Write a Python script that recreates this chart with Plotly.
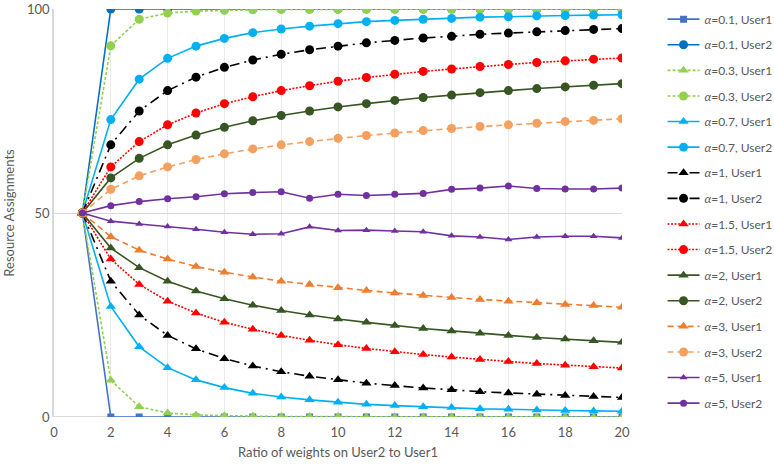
import plotly.graph_objects as go

x = list(range(1, 21))

a01_u1 = [50, 0, 0, 0, 0, 0, 0, 0, 0, 0, 0, 0, 0, 0, 0, 0, 0, 0, 0, 0]
a01_u2 = [50, 100, 100, 100, 100, 100, 100, 100, 100, 100, 100, 100, 100, 100, 100, 100, 100, 100, 100, 100]
a03_u1 = [50, 9.0, 2.5, 1.0, 0.5, 0.3, 0.2, 0.1, 0.1, 0.1, 0, 0, 0, 0, 0, 0, 0, 0, 0, 0]
a03_u2 = [50, 91.0, 97.5, 99.0, 99.5, 99.7, 99.8, 99.9, 99.9, 99.9, 100, 100, 100, 100, 100, 100, 100, 100, 100, 100]
a07_u1 = [50, 27.1, 17.2, 12.1, 9.1, 7.2, 5.8, 4.9, 4.2, 3.6, 3.1, 2.8, 2.5, 2.3, 2.0, 1.9, 1.7, 1.6, 1.5, 1.4]
a07_u2 = [50, 72.9, 82.8, 87.9, 90.9, 92.8, 94.2, 95.1, 95.8, 96.4, 96.9, 97.2, 97.5, 97.7, 98.0, 98.1, 98.3, 98.4, 98.5, 98.6]
a1_u1 = [50, 33.3, 25.0, 20.0, 16.7, 14.3, 12.5, 11.1, 10.0, 9.1, 8.3, 7.7, 7.1, 6.7, 6.2, 5.9, 5.6, 5.3, 5.0, 4.8]
a1_u2 = [50, 66.7, 75.0, 80.0, 83.3, 85.7, 87.5, 88.9, 90.0, 90.9, 91.7, 92.3, 92.9, 93.3, 93.8, 94.1, 94.4, 94.7, 95.0, 95.2]
a15_u1 = [50, 38.7, 32.5, 28.4, 25.5, 23.2, 21.5, 20.0, 18.8, 17.7, 16.8, 16.0, 15.3, 14.7, 14.1, 13.6, 13.1, 12.7, 12.3, 12.0]
a15_u2 = [50, 61.3, 67.5, 71.6, 74.5, 76.8, 78.5, 80.0, 81.2, 82.3, 83.2, 84.0, 84.7, 85.3, 85.9, 86.4, 86.9, 87.3, 87.7, 88.0]
a2_u1 = [50, 41.4, 36.6, 33.3, 30.9, 29.0, 27.4, 26.1, 25.0, 24.0, 23.2, 22.4, 21.7, 21.1, 20.5, 20.0, 19.5, 19.1, 18.7, 18.3]
a2_u2 = [50, 58.6, 63.4, 66.7, 69.1, 71.0, 72.6, 73.9, 75.0, 76.0, 76.8, 77.6, 78.3, 78.9, 79.5, 80.0, 80.5, 80.9, 81.3, 81.7]
a3_u1 = [50, 44.2, 40.9, 38.7, 36.9, 35.5, 34.3, 33.3, 32.5, 31.7, 31.0, 30.4, 29.8, 29.3, 28.8, 28.4, 28.0, 27.6, 27.3, 26.9]
a3_u2 = [50, 55.8, 59.1, 61.3, 63.1, 64.5, 65.7, 66.7, 67.5, 68.3, 69.0, 69.6, 70.2, 70.7, 71.2, 71.6, 72.0, 72.4, 72.7, 73.1]
a5_u1 = [50, 48.0, 47.3, 46.7, 46.0, 45.3, 44.8, 44.9, 46.6, 45.7, 45.8, 45.6, 45.4, 44.4, 44.1, 43.5, 44.1, 44.3, 44.3, 43.9]
a5_u2 = [50, 51.8, 52.8, 53.5, 54.0, 54.7, 55.0, 55.2, 53.6, 54.6, 54.3, 54.6, 54.8, 55.8, 56.1, 56.6, 56.0, 55.9, 55.9, 56.1]

series = [
    ("<i>α</i>=0.1, User1", a01_u1, "#4472C4", "solid", "square", 7),
    ("<i>α</i>=0.1, User2", a01_u2, "#0070C0", "solid", "circle", 9),
    ("<i>α</i>=0.3, User1", a03_u1, "#92D050", "3px,2px", "triangle-up", 9),
    ("<i>α</i>=0.3, User2", a03_u2, "#92D050", "3px,2px", "circle", 9),
    ("<i>α</i>=0.7, User1", a07_u1, "#00B0F0", "solid", "triangle-up", 9),
    ("<i>α</i>=0.7, User2", a07_u2, "#00B0F0", "solid", "circle", 9),
    ("<i>α</i>=1, User1", a1_u1, "#000000", "10px,5px,2px,5px", "triangle-up", 9),
    ("<i>α</i>=1, User2", a1_u2, "#000000", "10px,5px,2px,5px", "circle", 9),
    ("<i>α</i>=1.5, User1", a15_u1, "#FF0000", "2px,1.5px", "triangle-up", 9),
    ("<i>α</i>=1.5, User2", a15_u2, "#FF0000", "2px,1.5px", "circle", 9),
    ("<i>α</i>=2, User1", a2_u1, "#375623", "solid", "triangle-up", 9),
    ("<i>α</i>=2, User2", a2_u2, "#375623", "solid", "circle", 9),
    ("<i>α</i>=3, User1", a3_u1, "#ED7D31", "6px,4px", "triangle-up", 9),
    ("<i>α</i>=3, User2", a3_u2, "#F4A060", "6px,4px", "circle", 9),
    ("<i>α</i>=5, User1", a5_u1, "#7030A0", "solid", "triangle-up", 7),
    ("<i>α</i>=5, User2", a5_u2, "#7030A0", "solid", "circle", 7),
]

fig = go.Figure()
for i, (name, y, color, dash, sym, size) in enumerate(series):
    fig.add_trace(go.Scatter(
        x=x, y=y, name=name, mode="lines+markers",
        line=dict(color=color, width=1.6, dash=dash),
        marker=dict(color=color, symbol=sym, size=size),
        legendgroup="g%d" % i,
    ))

grey = "#595959"
fig.update_layout(
    width=774, height=466,
    margin=dict(l=54, r=152, t=9, b=49, autoexpand=False),
    paper_bgcolor="white", plot_bgcolor="white",
    font=dict(family="Lato", size=13, color=grey),
    showlegend=True,
    legend=dict(xref="container", yref="container", x=0.856, xanchor="left",
                y=0.99, yanchor="top", maxheight=1.0,
                tracegroupgap=6.6, font=dict(family="Lato", size=12, color=grey),
                itemwidth=32, bgcolor="rgba(0,0,0,0)"),
    xaxis=dict(range=[0, 20], tickvals=list(range(0, 21, 2)),
               showgrid=True, gridcolor="#EBEBEB", gridwidth=1,
               zeroline=False, showline=False, ticklabelstandoff=6,
               ticklabeloverflow="allow",
               title=dict(text="Ratio of weights on User2 to User1", font=dict(size=13, color=grey), standoff=8),
               tickfont=dict(size=13, color=grey)),
    yaxis=dict(range=[0, 100], tickvals=[0, 50, 100],
               showgrid=True, gridcolor="#D9D9D9", gridwidth=1.3,
               zeroline=False, showline=True, linecolor="#D9D9D9", linewidth=1.5,
               ticklabeloverflow="allow",
               title=dict(text="Resource Assignments", font=dict(size=13, color=grey), standoff=9),
               tickfont=dict(size=13, color=grey)),
)
fig.add_shape(type="line", xref="x", yref="y", x0=0, x1=20, y0=0, y1=0,
              line=dict(color="#D9D9D9", width=2), layer="below")

fig.write_html("out.html")
